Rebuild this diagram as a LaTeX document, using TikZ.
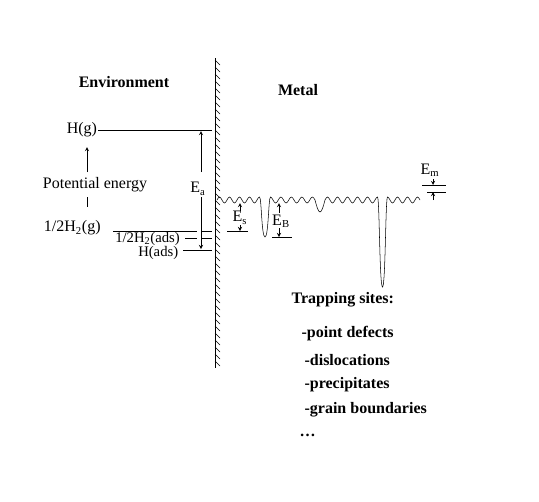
\documentclass[tikz,border=0pt]{standalone}
\usepackage{fontspec}
\setmainfont{Liberation Serif}
\tikzset{
  lab/.style={inner sep=0.5pt,font=\fontsize{12}{14}\selectfont},
  small/.style={inner sep=0pt,font=\fontsize{11}{13}\selectfont},
  title/.style={inner sep=1pt,font=\fontsize{12}{14}\selectfont\bfseries}
}
\begin{document}
\begin{tikzpicture}[x=0.75pt,y=-0.75pt,>=stealth]
\useasboundingbox (0,0) rectangle (539,501);

% surface wall
\coordinate (wtop) at (215,58);
\coordinate (wbot) at (215,368);
\draw (wtop) -- (wbot);
\foreach \y in {60,67,...,361} \draw (215,\y) -- (220,\y+5);

\node[title] (env) at (124,82) {Environment};
\node[title] (metal) at (298,90) {Metal};

% environment side
\node[lab,anchor=east] (hg) at (98,130) {H(g)};
\coordinate (hgr) at (212,130);
\draw (hg) -- (hgr);

\node[lab] (pe) at (95,185) {Potential energy};
\coordinate (pet) at (87,147);
\coordinate (peb) at (87,172);
\draw[->] (peb) -- (pet);
\coordinate (pe1) at (87,197);
\coordinate (pe2) at (87,207);
\draw (pe1) -- (pe2);

\node[lab,anchor=west] (h2g) at (43,228) {1/2H\textsubscript{2}(g)};
\coordinate (h2gl) at (113,231);
\coordinate (h2gr) at (212,231);
\draw (h2gl) -- (h2gr);

\node[small,anchor=base west] (h2ads) at (115,242) {1/2H\textsubscript{2}(ads)};
\coordinate (h2adsl) at (185,238);
\coordinate (h2adsr) at (212,238);
\draw (h2adsl) -- (h2adsr);

\node[small,anchor=base west] (hads) at (138,256) {H(ads)};
\coordinate (hadsl) at (183,250);
\coordinate (hadsr) at (212,250);
\draw (hadsl) -- (hadsr);

\draw[white,line width=2.5pt] (199,228) -- (199,241);
\node[lab] (ea) at (198,189) {E\textsubscript{a}};
\coordinate (eatop) at (201,131);
\coordinate (eabot) at (201,249);
\draw[->] (201,172) -- (eatop);
\draw[->] (201,197) -- (eabot);

% metal side potential
\draw (217,200)
  \foreach \x in {217,227,237,247} { sin (\x+2.5,197) cos (\x+5,200) sin (\x+7.5,203) cos (\x+10,200) }
  sin (259.5,197)
  .. controls (261.5,197) and (261.5,237) .. (265,237)
  .. controls (268.5,237) and (268.5,197) .. (270.5,197)
  cos (273,200)
  \foreach \x in {273,283.5,294,304.5} { sin (\x+2.6,203) cos (\x+5.25,200) sin (\x+7.9,197) cos (\x+10.5,200) }
  sin (320,212) cos (325,200) sin (327.5,197) cos (330,200)
  \foreach \x in {330,340,350,360} { sin (\x+2.5,203) cos (\x+5,200) sin (\x+7.5,197) cos (\x+10,200) }
  sin (372.5,203) cos (375,200) sin (377.5,197)
  .. controls (379.5,197) and (379.5,287) .. (382.5,287)
  .. controls (385.5,287) and (385.5,197) .. (387.5,197)
  cos (390,200)
  \foreach \x in {390,400,410} { sin (\x+2.5,203) cos (\x+5,200) sin (\x+7.5,197) cos (\x+10,200) };

% E_s
\node[lab] (es) at (240,218) {E\textsubscript{s}};
\coordinate (esl) at (227,231);
\coordinate (esr) at (248,231);
\draw (esl) -- (esr);
\draw[->] (240,211) -- (240,203);
\draw[->] (240,225) -- (240,231);

% E_B
\node[lab] (eb) at (281,221) {E\textsubscript{B}};
\coordinate (ebl) at (272,237);
\coordinate (ebr) at (292,237);
\draw (ebl) -- (ebr);
\draw[->] (279,213) -- (279,203);
\draw[->] (279,228) -- (279,237);

% E_m
\node[lab] (em) at (430,170) {E\textsubscript{m}};
\coordinate (em1l) at (422,185);
\coordinate (em1r) at (446,185);
\coordinate (em2l) at (427,192);
\coordinate (em2r) at (446,192);
\draw (em1l) -- (em1r);
\draw (em2l) -- (em2r);
\draw[->] (433,179) -- (433,185);
\draw[->] (433,200) -- (433,192);

% trapping sites
\node[title,anchor=west] (trap) at (290,300) {Trapping sites:};
\node[title,anchor=west] (pd) at (300,334) {-point defects};
\node[title,anchor=west] (dis) at (303,360) {-dislocations};
\node[title,anchor=west] (pre) at (303,385) {-precipitates};
\node[title,anchor=west] (gb) at (303,410) {-grain boundaries};
\node[title,anchor=west] (dots) at (298,435) {\dots};
\end{tikzpicture}
\end{document}
